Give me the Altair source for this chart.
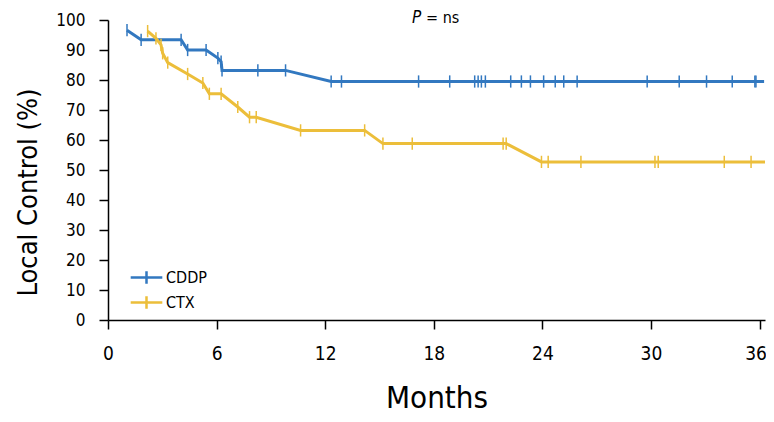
import altair as alt
import pandas as pd

# ---- data ----
cddp_months = [1.05, 1.83, 4.04, 4.4, 5.42, 6.07, 6.25, 6.3, 8.28, 9.81, 12.33, 12.9,
               17.16, 18.88, 20.26, 20.45, 20.63, 20.85, 22.25, 22.84, 23.34, 24.07,
               24.71, 25.18, 25.92, 29.79, 31.56, 33.07, 34.49, 35.74, 35.8, 36.25]
cddp_lc = [96.6, 93.4, 93.4, 90.0, 90.0, 87.3, 86.1, 83.2, 83.2, 83.2, 79.5, 79.5,
           79.5, 79.5, 79.5, 79.5, 79.5, 79.5, 79.5, 79.5, 79.5, 79.5,
           79.5, 79.5, 79.5, 79.5, 79.5, 79.5, 79.5, 79.5, 79.5, 79.5]
cddp_tick = [1] * 31 + [0]

ctx_months = [2.19, 2.65, 2.93, 3.02, 3.3, 4.4, 5.24, 5.6, 6.25, 7.17, 7.82, 8.19,
              10.64, 14.18, 15.19, 16.81, 21.83, 22.0, 23.95, 24.32, 26.13, 30.22,
              30.4, 34.05, 35.53, 36.3]
ctx_lc = [96.3, 93.9, 91.7, 88.9, 85.8, 82.0, 79.0, 75.4, 75.4, 71.0, 67.6, 67.6,
          63.2, 63.2, 58.8, 58.8, 58.8, 58.8, 52.7, 52.7, 52.7, 52.7,
          52.7, 52.7, 52.7, 52.7]
ctx_tick = [1] * 25 + [0]

groups = ["CDDP", "CTX"]
colors = ["#3278c0", "#ecbe3a"]
x_ticks = [0, 6, 12, 18, 24, 30, 36]
y_ticks = [0, 10, 20, 30, 40, 50, 60, 70, 80, 90, 100]

rows = []
for g, ms, vs, ts in [("CDDP", cddp_months, cddp_lc, cddp_tick),
                      ("CTX", ctx_months, ctx_lc, ctx_tick)]:
    for i, (m, v, t) in enumerate(zip(ms, vs, ts)):
        rows.append({"group": g, "month": m, "lc": v, "tick": t, "order": i})
df = pd.DataFrame(rows)

FONT = "DejaVu Sans Condensed, Liberation Sans, Arial, sans-serif"

xscale = alt.Scale(domain=[0, 36.3], nice=False, zero=False)
yscale = alt.Scale(domain=[0, 100], nice=False, zero=True)
cscale = alt.Scale(domain=groups, range=colors)

x_axis = alt.Axis(values=x_ticks, title="Months", grid=False,
                  domainColor="black", domainWidth=1.5,
                  tickColor="black", tickWidth=1.5, tickSize=9,
                  labelFont=FONT, labelFontSize=19, labelColor="black",
                  labelPadding=15, labelFlush=False, labelOverlap=False,
                  labelOffset={"expr": "datum.value == 36 ? -4 : 0"},
                  titleFont=FONT, titleFontSize=31, titleFontWeight="normal",
                  titleColor="black", titlePadding=20)
y_axis = alt.Axis(values=y_ticks, tickCount=11, title="Local Control (%)", grid=False,
                  domainColor="black", domainWidth=1.5,
                  tickColor="black", tickWidth=1.5, tickSize=9,
                  labelFont=FONT, labelFontSize=17, labelColor="black",
                  labelPadding=14, labelOverlap=False, labelFlush=False,
                  titleFont=FONT, titleFontSize=27, titleFontWeight="normal",
                  titleColor="black", titleX=-80, titleY=172, titleAngle=270,
                  titleAlign="center", titleBaseline="middle")

base = alt.Chart(df).encode(
    x=alt.X("month:Q", scale=xscale, axis=x_axis),
    y=alt.Y("lc:Q", scale=yscale, axis=y_axis),
)

lines = base.mark_line(strokeWidth=3, interpolate="linear").encode(
    color=alt.Color("group:N", scale=cscale,
                    legend=alt.Legend(title=None, orient="none", legendX=29, legendY=248,
                                      symbolType="M-2,0L2,0M0,-0.8L0,0.8",
                                      symbolSize=250, symbolStrokeWidth=2.5,
                                      labelFont=FONT, labelFontSize=16,
                                      labelColor="black", rowPadding=2,
                                      labelOffset=10)),
    order="order:Q",
    detail="group:N",
)

ticks = base.transform_filter("datum.tick == 1").mark_point(
    shape="M0,-1L0,1", size=150, strokeWidth=1.5, filled=False, opacity=1
).encode(
    color=alt.Color("group:N", scale=cscale, legend=None),
)

ann = pd.DataFrame({"month": [16.8], "lc": [100.6]})
ann_base = alt.Chart(ann).encode(
    x=alt.X("month:Q", scale=xscale, axis=x_axis),
    y=alt.Y("lc:Q", scale=yscale, axis=y_axis),
)
p_text = ann_base.mark_text(text="P", font="DejaVu Sans Condensed", fontStyle="italic",
                            fontSize=17, align="left", baseline="middle", color="black")
ns_text = ann_base.mark_text(text="= ns", font=FONT, fontSize=16, align="left",
                             baseline="middle", dx=14, color="black")

chart = alt.layer(lines, ticks, p_text, ns_text).properties(
    width=657, height=300,
    autosize=alt.AutoSizeParams(type="none"),
    padding={"left": 100, "top": 12, "right": 1, "bottom": 94},
    background="white",
).configure_view(stroke=None)

chart.save("out.html", embed_options={"renderer": "svg", "actions": False})
